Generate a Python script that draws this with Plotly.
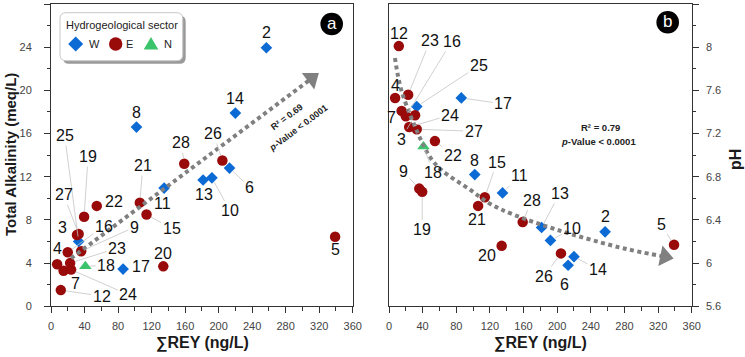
import plotly.graph_objects as go

# ---------------- data ----------------
SAMPLE = [2, 3, 4, 5, 6, 7, 8, 9, 10, 11, 12, 13, 14, 15, 16, 17, 18, 19, 20, 21, 22, 23, 24, 25, 26, 27, 28]
REY = [257, 31, 7.3, 339, 213, 15, 102, 36, 192, 135, 11.7, 181.5, 220, 114, 20, 86, 41, 39.5, 134, 106,
       54.6, 22.8, 24, 33, 204.5, 33, 159]
ALK = [23.95, 6.6, 3.9, 6.44, 12.8, 3.3, 16.6, 5.1, 11.9, 10.95, 1.5, 11.7, 17.9, 8.5, 5.0, 3.45, 3.7, 8.3,
       3.7, 9.6, 9.3, 4.0, 3.4, 6.0, 13.5, 6.7, 13.2]
PH = [6.29, 7.37, 7.53, 6.17, 5.98, 7.41, 6.82, 6.69, 6.21, 6.65, 8.01, 6.33, 6.06, 6.61, 7.36, 7.53, 7.08,
      6.66, 6.16, 6.53, 7.13, 7.56, 7.26, 7.45, 6.09, 7.24, 6.38]
SECTOR = ['W', 'E', 'E', 'E', 'W', 'E', 'W', 'E', 'W', 'W', 'E', 'W', 'W', 'E', 'E', 'W', 'N', 'E', 'E', 'E',
          'E', 'E', 'E', 'W', 'E', 'E', 'E']

# trend lines as drawn in the reference
TREND_A_REY = [24, 311]
TREND_A_ALK = [4.45, 21.1]
TREND_B_REY = [7.1, 15.1, 40.4, 50.8, 62.7, 96.3, 120, 147.8, 199.4, 266.7, 294.5, 328]
TREND_B_PH = [7.9, 7.59, 7.1, 6.96, 6.86, 6.68, 6.55, 6.45, 6.31, 6.16, 6.11, 6.06]

X_TICKS = list(range(0, 361, 40))
ALK_TICKS = list(range(0, 29, 4))
PH_TICKS = [5.6, 6.0, 6.4, 6.8, 7.2, 7.6, 8.0, 8.4]
PH_TICKTEXT = ['5.6', '6', '6.4', '6.8', '7.2', '7.6', '8', '8.4']

# ---------------- layout / style ----------------
W, H = 745, 357
FONT = "Liberation Sans, Arial, sans-serif"
STYLE = {
    'W': dict(name='W', symbol='diamond', color='#0b6ad4', size=9),
    'E': dict(name='E', symbol='circle', color='#990a0a', size=10.5),
    'N': dict(name='N', symbol='triangle-up', color='#3cc46c', size=11),
}
# label offsets in pixels (dx, dy) relative to each point
LAB_A = {2: (0, -15), 3: (-14, -8), 4: (0, -16), 5: (0, 13), 6: (20, 19), 7: (12, 13), 8: (0, -15),
         9: (53, -24), 10: (18, 33), 11: (-1.5, 15.5), 12: (41, 6), 13: (1, 15), 14: (0, -15), 15: (25, 14),
         16: (36, -26), 17: (18, -3), 18: (21, -1), 19: (4, -60), 20: (0, -13), 21: (3, -37), 22: (17, -4),
         23: (47, -15), 24: (57, 25), 25: (-14, -106), 26: (-9, -27), 27: (-15, -39), 28: (-3, -21)}
LAB_B = {2: (0, -15), 3: (-14, 24), 4: (0, -12), 5: (-13, -20), 6: (-4, 19), 7: (-10, 7), 8: (0, -14),
         9: (-16, -17), 10: (22, -12), 11: (17, -17), 12: (0, -13), 13: (18, -34), 14: (24, 13), 15: (12, -35),
         16: (46, -75), 17: (42, 6), 18: (10, 26), 19: (0, 38), 20: (-15, 10), 21: (-1, 14), 22: (18, 14),
         23: (22, -54), 24: (41, -12), 25: (62, -41), 26: (-17, 23), 27: (57, 2), 28: (9, -22)}


def PX(px):
    return px / W


def PY(py):
    return 1 - py / H


fig = go.Figure()

for sec in ['W', 'E', 'N']:
    st = STYLE[sec]
    idx = [i for i, s in enumerate(SECTOR) if s == sec]
    mk = dict(symbol=st['symbol'], color=st['color'], size=st['size'], line=dict(width=0))
    fig.add_trace(go.Scatter(x=[REY[i] for i in idx], y=[ALK[i] for i in idx], mode='markers',
                             marker=mk, name=st['name'], showlegend=False, xaxis='x', yaxis='y'))
    fig.add_trace(go.Scatter(x=[REY[i] for i in idx], y=[PH[i] for i in idx], mode='markers',
                             marker=mk, name=st['name'], showlegend=False, xaxis='x2', yaxis='y2'))

# trend lines with arrow heads
DOT = "4px,3.5px"
fig.add_trace(go.Scatter(x=TREND_A_REY, y=TREND_A_ALK, mode='lines', line=dict(color='#808080', width=4, dash=DOT),
                         showlegend=False, xaxis='x', yaxis='y', hoverinfo='skip'))
fig.add_trace(go.Scatter(x=TREND_A_REY[-1:], y=TREND_A_ALK[-1:], mode='markers',
                         marker=dict(symbol='triangle-right', size=18, color='#808080', angle=-36.8),
                         showlegend=False, xaxis='x', yaxis='y', hoverinfo='skip'))
fig.add_trace(go.Scatter(x=TREND_B_REY, y=TREND_B_PH, mode='lines',
                         line=dict(color='#808080', width=4, dash=DOT, shape='spline', smoothing=1),
                         showlegend=False, xaxis='x2', yaxis='y2', hoverinfo='skip'))
fig.add_trace(go.Scatter(x=TREND_B_REY[-1:], y=TREND_B_PH[-1:], mode='markers',
                         marker=dict(symbol='triangle-right', size=18, color='#808080', angle=11.5),
                         showlegend=False, xaxis='x2', yaxis='y2', hoverinfo='skip'))

annotations = []


def txt(px, py, text, font, angle=0):
    return dict(x=PX(px), y=PY(py), xref='paper', yref='paper', text=text, showarrow=False,
                xanchor='center', yanchor='middle', textangle=angle, font=font)


def add_labels(yvals, offs, xr, yr):
    for s, xv, yv in zip(SAMPLE, REY, yvals):
        dx, dy = offs[s]
        f = dict(size=16, color='#111', family=FONT)
        if (dx * dx + dy * dy) ** 0.5 >= 20:
            annotations.append(dict(x=xv, y=yv, xref=xr, yref=yr, text=str(s), showarrow=True,
                                    ax=dx, ay=dy, arrowhead=0, arrowwidth=0.8, arrowcolor='#c4c4c4',
                                    standoff=5, font=f))
        else:
            annotations.append(dict(x=xv, y=yv, xref=xr, yref=yr, text=str(s), showarrow=False,
                                    xanchor='center', yanchor='middle', xshift=dx, yshift=-dy, font=f))


add_labels(ALK, LAB_A, 'x', 'y')
add_labels(PH, LAB_B, 'x2', 'y2')

# axis titles
title_font = dict(size=16, color='#1a1a1a', family=FONT)
annotations += [
    txt(10, 155, '<b>Total Alkalinity (meq/L)</b>', dict(size=15, color='#1a1a1a', family=FONT), -90),
    txt(202, 343, '<b>∑REY (ng/L)</b>', title_font),
    txt(540, 343, '<b>∑REY (ng/L)</b>', title_font),
    txt(735, 160, '<b>pH</b>', title_font, -90),
]

# statistics text
stat_font = dict(size=9, color='#222', family=FONT)
stat_font_b = dict(size=9.5, color='#222', family=FONT)
annotations += [
    txt(286.7, 116.7, '<b>R² = 0.69</b>', stat_font, -37),
    txt(298.3, 128.3, '<b><i>p</i>-Value &lt; 0.0001</b>', stat_font, -37),
    txt(600, 127.3, '<b>R² = 0.79</b>', stat_font_b),
    txt(598.3, 141.7, '<b><i>p</i>-Value &lt; 0.0001</b>', stat_font_b),
]

shapes = []
# panel letters
for (cx, cy, letter) in [(331.7, 24, 'a'), (667.7, 22.3, 'b')]:
    shapes.append(dict(type='circle', xref='paper', yref='paper', xsizemode='pixel', ysizemode='pixel',
                       xanchor=PX(cx), yanchor=PY(cy), x0=-11.3, x1=11.3, y0=-11.3, y1=11.3,
                       fillcolor='black', line=dict(width=0)))
    annotations.append(txt(cx, cy - 0.5, letter, dict(size=17, color='white', family=FONT)))


# legend (drawn manually)
def rrect(x0, y0, x1, y1, r):
    pts = [('M', x0 + r, y0), ('L', x1 - r, y0), ('Q', x1, y0, x1, y0 + r), ('L', x1, y1 - r),
           ('Q', x1, y1, x1 - r, y1), ('L', x0 + r, y1), ('Q', x0, y1, x0, y1 - r), ('L', x0, y0 + r),
           ('Q', x0, y0, x0 + r, y0)]
    out = []
    for p in pts:
        cmd = p[0]
        coords = p[1:]
        cs = []
        for k in range(0, len(coords), 2):
            cs.append('%.5f,%.5f' % (PX(coords[k]), PY(coords[k + 1])))
        out.append(cmd + ' '.join(cs))
    return ' '.join(out) + ' Z'


LX0, LY0, LX1, LY1 = 60, 12.7, 182.7, 60.7
shapes.append(dict(type='path', xref='paper', yref='paper', path=rrect(LX0 + 3, LY0 + 3, LX1 + 3, LY1 + 3, 6),
                   fillcolor='#9a9a9a', line=dict(width=0), layer='above'))
shapes.append(dict(type='path', xref='paper', yref='paper', path=rrect(LX0, LY0, LX1, LY1, 6),
                   fillcolor='white', line=dict(color='#c8c8c8', width=1), layer='above'))


def poly(pts):
    return 'M' + ' L'.join('%.5f,%.5f' % (PX(a), PY(b)) for a, b in pts) + ' Z'


cy = 44
shapes.append(dict(type='path', xref='paper', yref='paper',
                   path=poly([(75.7, cy - 7.5), (83.2, cy), (75.7, cy + 7.5), (68.2, cy)]),
                   fillcolor=STYLE['W']['color'], line=dict(width=0), layer='above'))
shapes.append(dict(type='circle', xref='paper', yref='paper', x0=PX(115.7 - 6.7), x1=PX(115.7 + 6.7),
                   y0=PY(cy + 6.7), y1=PY(cy - 6.7), fillcolor=STYLE['E']['color'], line=dict(width=0),
                   layer='above'))
shapes.append(dict(type='path', xref='paper', yref='paper',
                   path=poly([(151, cy - 7), (158.3, cy + 5.5), (143.7, cy + 5.5)]),
                   fillcolor=STYLE['N']['color'], line=dict(width=0), layer='above'))
leg_font = dict(size=11, color='#222', family=FONT)
annotations += [
    txt(121.5, 25, 'Hydrogeological sector', leg_font),
    txt(94.3, 44, 'W', leg_font),
    txt(129.3, 44, 'E', leg_font),
    txt(168.3, 44, 'N', leg_font),
]

ax_common = dict(showline=True, linecolor='#333', linewidth=1, mirror=True, showgrid=False, zeroline=False,
                 ticks='outside', ticklen=6, tickwidth=1, tickcolor='#333', automargin=False,
                 tickfont=dict(size=11, color='#444', family=FONT))
YDOM = [(H - 306.3) / H, (H - 4) / H]

fig.update_layout(
    template='none',
    width=W, height=H, autosize=False, margin=dict(l=0, r=0, t=0, b=0, pad=0),
    paper_bgcolor='white', plot_bgcolor='white',
    font=dict(family=FONT), showlegend=False,
    xaxis=dict(domain=[PX(51), PX(352.7)], range=[0, 360], tickvals=X_TICKS, anchor='y',
               minor=dict(dtick=20, tick0=0, ticks='outside', ticklen=3.5, tickcolor='#333'),
               ticklabelstandoff=3, **ax_common),
    yaxis=dict(domain=YDOM, range=[0, 28], tickvals=ALK_TICKS, anchor='x',
               minor=dict(dtick=2, tick0=0, ticks='outside', ticklen=3.5, tickcolor='#333'),
               ticklabelstandoff=10, **ax_common),
    xaxis2=dict(domain=[PX(389), PX(691.7)], range=[0, 360], tickvals=X_TICKS, anchor='y2',
                minor=dict(dtick=20, tick0=0, ticks='outside', ticklen=3.5, tickcolor='#333'),
                ticklabelstandoff=3, **ax_common),
    yaxis2=dict(domain=YDOM, range=[5.6, 8.4], tickvals=PH_TICKS, ticktext=PH_TICKTEXT,
                anchor='x2', side='right',
                minor=dict(dtick=0.2, tick0=5.6, ticks='outside', ticklen=3.5, tickcolor='#333'),
                ticklabelstandoff=5, **ax_common),
    annotations=annotations, shapes=shapes,
)

POST = ("document.documentElement.style.margin='0';document.body.style.margin='0';"
        "document.documentElement.style.overflow='hidden';document.body.style.overflow='hidden';")

fig.write_html("out.html", config={'responsive': False}, post_script=POST)
